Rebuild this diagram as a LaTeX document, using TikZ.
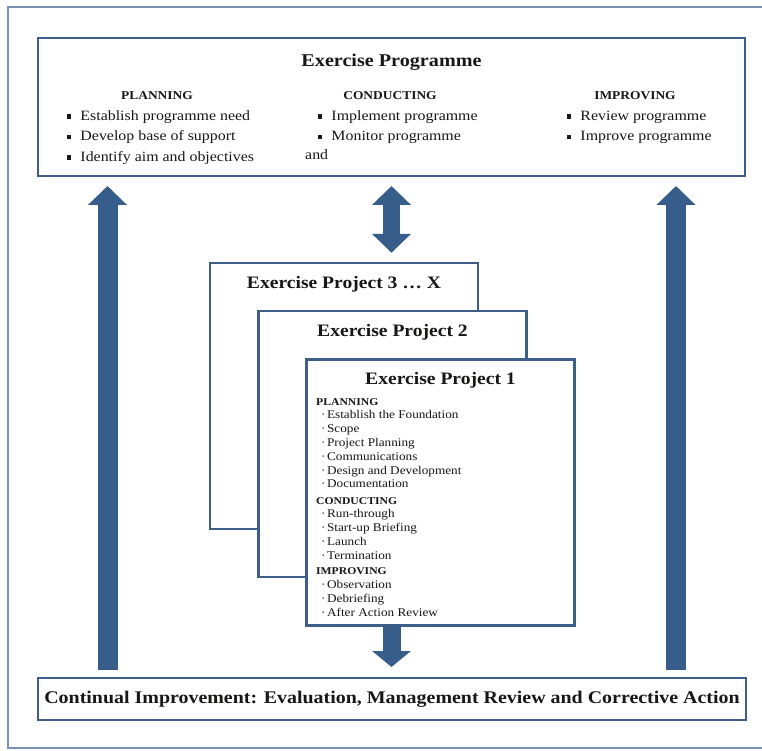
\documentclass[tikz,border=0pt]{standalone}
\usepackage{fontspec}
\setmainfont{Liberation Serif}[FakeStretch=1.12]
\usetikzlibrary{arrows.meta,positioning}
\definecolor{boxblue}{RGB}{62,94,138}
\definecolor{arrblue}{RGB}{55,94,139}
\definecolor{frameblue}{RGB}{120,146,182}
\definecolor{ink}{RGB}{25,22,22}
\newcommand{\sqb}{\rule[0.28ex]{0.3em}{0.3em}}
\newcommand{\pit}[1]{\hspace*{5pt}{\fontsize{11.8}{13.8}\selectfont\textperiodcentered}\hspace{1.5pt}#1}

\begin{document}
\begin{tikzpicture}[x=1pt,y=-1pt,
  box/.style={draw=boxblue,line width=2pt,fill=white,inner sep=0pt},
  pbox/.style={box,line width=2.4pt,minimum width=268pt,minimum height=266pt},
  ttl/.style={text=ink,font=\bfseries\fontsize{18}{22}\selectfont},
  pttl/.style={text=ink,font=\bfseries\fontsize{17.5}{21}\selectfont},
  hd/.style={text=ink,font=\bfseries\fontsize{12}{14}\selectfont},
  item/.style={text=ink,anchor=west,inner sep=0pt,text height=0.75em,text depth=0.25em,
    font=\fontsize{14.2}{17}\selectfont},
  sidearr/.style={arrblue,line width=20pt,shorten <=7pt,shorten >=9pt,
    -{Triangle[width=38pt,length=19pt]}},
  midarr/.style={arrblue,line width=17pt,shorten <=9pt,shorten >=9pt,
    {Triangle[width=38pt,length=19pt]}-{Triangle[width=38pt,length=19pt]}},
  botarr/.style={arrblue,line width=18pt,shorten >=10pt,
    -{Triangle[width=38pt,length=16pt]}}
]
\useasboundingbox (0,0) rectangle (762,751);

% outer frame, open to the right
\draw[frameblue,line width=1.6pt] (762,7) -- (8,7) -- (8,748) -- (762,748);

% exercise programme
\node[box,minimum width=707pt,minimum height=138pt] (prog) at (391.5,107) {};
\node[ttl] (progttl) at (391.5,62) {Exercise Programme};
\node[hd] (plan) at (157,96) {PLANNING};
\node[hd] (cond) at (390,96) {CONDUCTING};
\node[hd] (impr) at (635,96) {IMPROVING};
\foreach \t [count=\i] in {Establish programme need,Develop base of support,Identify aim and objectives}
  \node[item] (pl\i) at (67,97.5+20.5*\i) {\sqb\hspace{9pt}\t};
\foreach \t [count=\i] in {Implement programme,Monitor programme}
  \node[item] (co\i) at (318,97.5+20.5*\i) {\sqb\hspace{9pt}\t};
\node[item] (coand) at (305,157) {and};
\foreach \t [count=\i] in {Review programme,Improve programme}
  \node[item] (im\i) at (567,97.5+20.5*\i) {\sqb\hspace{9pt}\t};

% continual improvement
\node[box,minimum width=708pt,minimum height=42pt,ttl,font=\bfseries\fontsize{17.8}{20}\selectfont]
  (ci) at (392,699) {Continual Improvement: Evaluation, Management Review and Corrective Action};

% exercise projects
\node[pbox] (p3) at (344,396) {};
\node[pttl] (p3ttl) at ([yshift=-22pt]p3.north) {Exercise Project 3 \dots\ X};
\node[pbox] (p2) at (392.5,444) {};
\node[pttl] (p2ttl) at ([yshift=-22pt]p2.north) {Exercise Project 2};
\node[pbox] (p1) at (440.5,492.5) {};
\node[pttl] (p1ttl) at ([yshift=-22pt]p1.north) {Exercise Project 1};
\node[text=ink,anchor=north west,align=left,inner sep=0pt,font=\fontsize{11.8}{13.8}\selectfont]
  (p1list) at (316,398) {%
  {\bfseries\fontsize{10.4}{13.8}\selectfont PLANNING}\\
  \pit{Establish the Foundation}\\
  \pit{Scope}\\
  \pit{Project Planning}\\
  \pit{Communications}\\
  \pit{Design and Development}\\
  \pit{Documentation}\\[2.5pt]
  {\bfseries\fontsize{10.4}{13.8}\selectfont CONDUCTING}\\
  \pit{Run-through}\\
  \pit{Start-up Briefing}\\
  \pit{Launch}\\
  \pit{Termination}\\[1.5pt]
  {\bfseries\fontsize{10.4}{13.8}\selectfont IMPROVING}\\
  \pit{Observation}\\
  \pit{Debriefing}\\
  \pit{After Action Review}};

% block arrows
\coordinate (lx) at (107.5,0);
\coordinate (rx) at (676,0);
\draw[sidearr] (ci.north -| lx) -- (prog.south -| lx);
\draw[sidearr] (ci.north -| rx) -- (prog.south -| rx);
\draw[midarr] (prog.south) -- (prog.south |- p3.north);
\draw[botarr] (prog.south |- p1.south) -- (prog.south |- ci.north);
\end{tikzpicture}
\end{document}
